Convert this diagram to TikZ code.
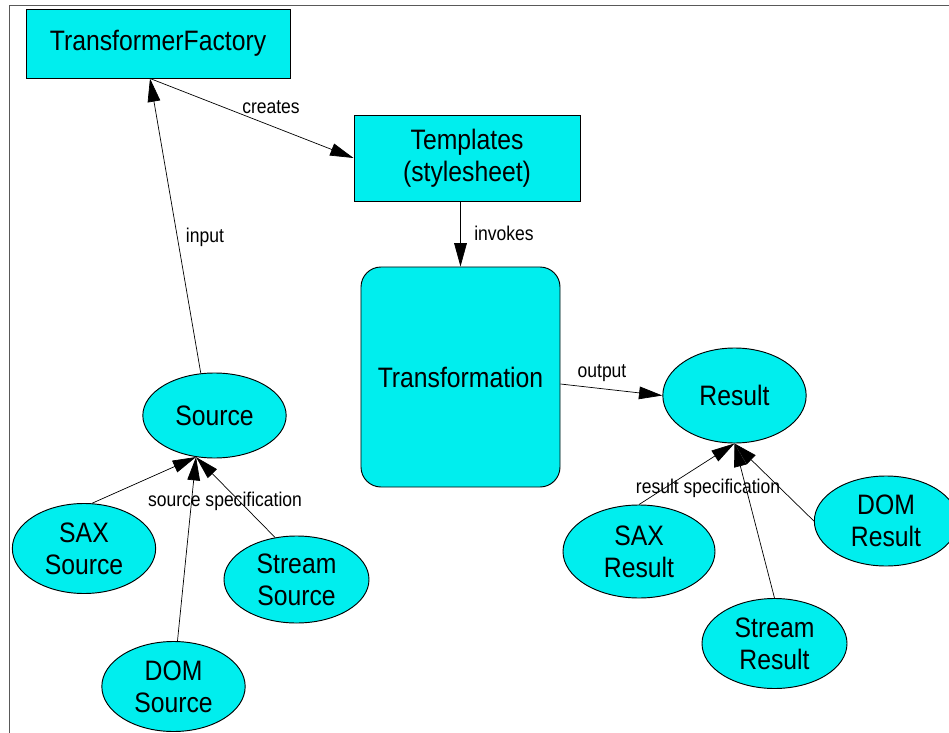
\documentclass[tikz,border=0pt]{standalone}
\usepackage{fontspec}
\setmainfont{Liberation Sans}[FakeStretch=0.88]
\usetikzlibrary{arrows.meta,shapes.geometric}
\definecolor{boxcyan}{RGB}{0,238,238}
\begin{document}
\begin{tikzpicture}[x=0.03cm,y=-0.03cm,
    box/.style={draw,fill=boxcyan,line width=0.8pt,align=center,inner sep=0pt,font=\fontsize{24}{27}\selectfont},
    blob/.style={box,ellipse,minimum width=4.3cm,minimum height=2.7cm},
    conn/.style={line width=0.6pt,-{Triangle[length=0.7cm,width=0.38cm]}},
    lbl/.style={inner sep=0pt,font=\fontsize{17}{20}\selectfont}]
    \useasboundingbox (0,0) rectangle (949,733);
    \draw[black!65,line width=1.6pt] (9.5,733) -- (9.5,5.5) -- (949,5.5);
    % boxes
    \node[box,minimum width=7.92cm,minimum height=2.07cm] (tf) at (158,43.5) {TransformerFactory};
    \node[box,minimum width=6.78cm,minimum height=2.58cm] (tpl) at (467,158) {Templates\\(stylesheet)};
    \node[box,rounded corners=0.6cm,minimum width=5.97cm,minimum height=6.6cm] (trf) at (460.5,377) {Transformation};
    % sources
    \node[blob,minimum height=2.55cm] (src) at (214.5,415.5) {Source};
    \node[blob] (saxs) at (84,548.5) {SAX\\Source};
    \node[blob,minimum width=4.35cm,minimum height=2.61cm] (strs) at (296.5,579.5) {Stream\\Source};
    \node[blob] (doms) at (173.5,686.5) {DOM\\Source};
    % results
    \node[blob,minimum height=2.85cm] (res) at (734.5,395.5) {Result};
    \node[blob,minimum width=4.56cm,minimum height=2.79cm] (saxr) at (639,551.5) {SAX\\Result};
    \node[blob,minimum width=4.35cm] (strr) at (774.5,643.5) {Stream\\Result};
    \node[blob] (domr) at (886,521) {DOM\\Result};
    % connectors
    \draw[conn] (src.108) -- ([xshift=-0.24cm]tf.south);
    \draw[conn] ([xshift=-0.24cm]tf.south) -- (tpl.west);
    \draw[conn] (tpl.south -| trf.north) -- (trf.north);
    \draw[conn] ([yshift=-0.21cm]trf.east) -- (res.west);
    \foreach \a in {saxs.80,doms.85,strs.117}
      \draw[conn] (\a) -- (src.246);
    \foreach \a in {saxr.north,strr.north,domr.west}
      \draw[conn] (\a) -- (res.south);
    % labels
    \node[lbl] (linput) at (205,237) {input};
    \node[lbl] (lcreates) at (271,107) {creates};
    \node[lbl] (linvokes) at (504,233) {invokes};
    \node[lbl] (loutput) at (602,373) {output};
    \node[lbl] (lsrcspec) at (225,501) {source specification};
    \node[lbl] (lresspec) at (708,488) {result specification};
\end{tikzpicture}
\end{document}
